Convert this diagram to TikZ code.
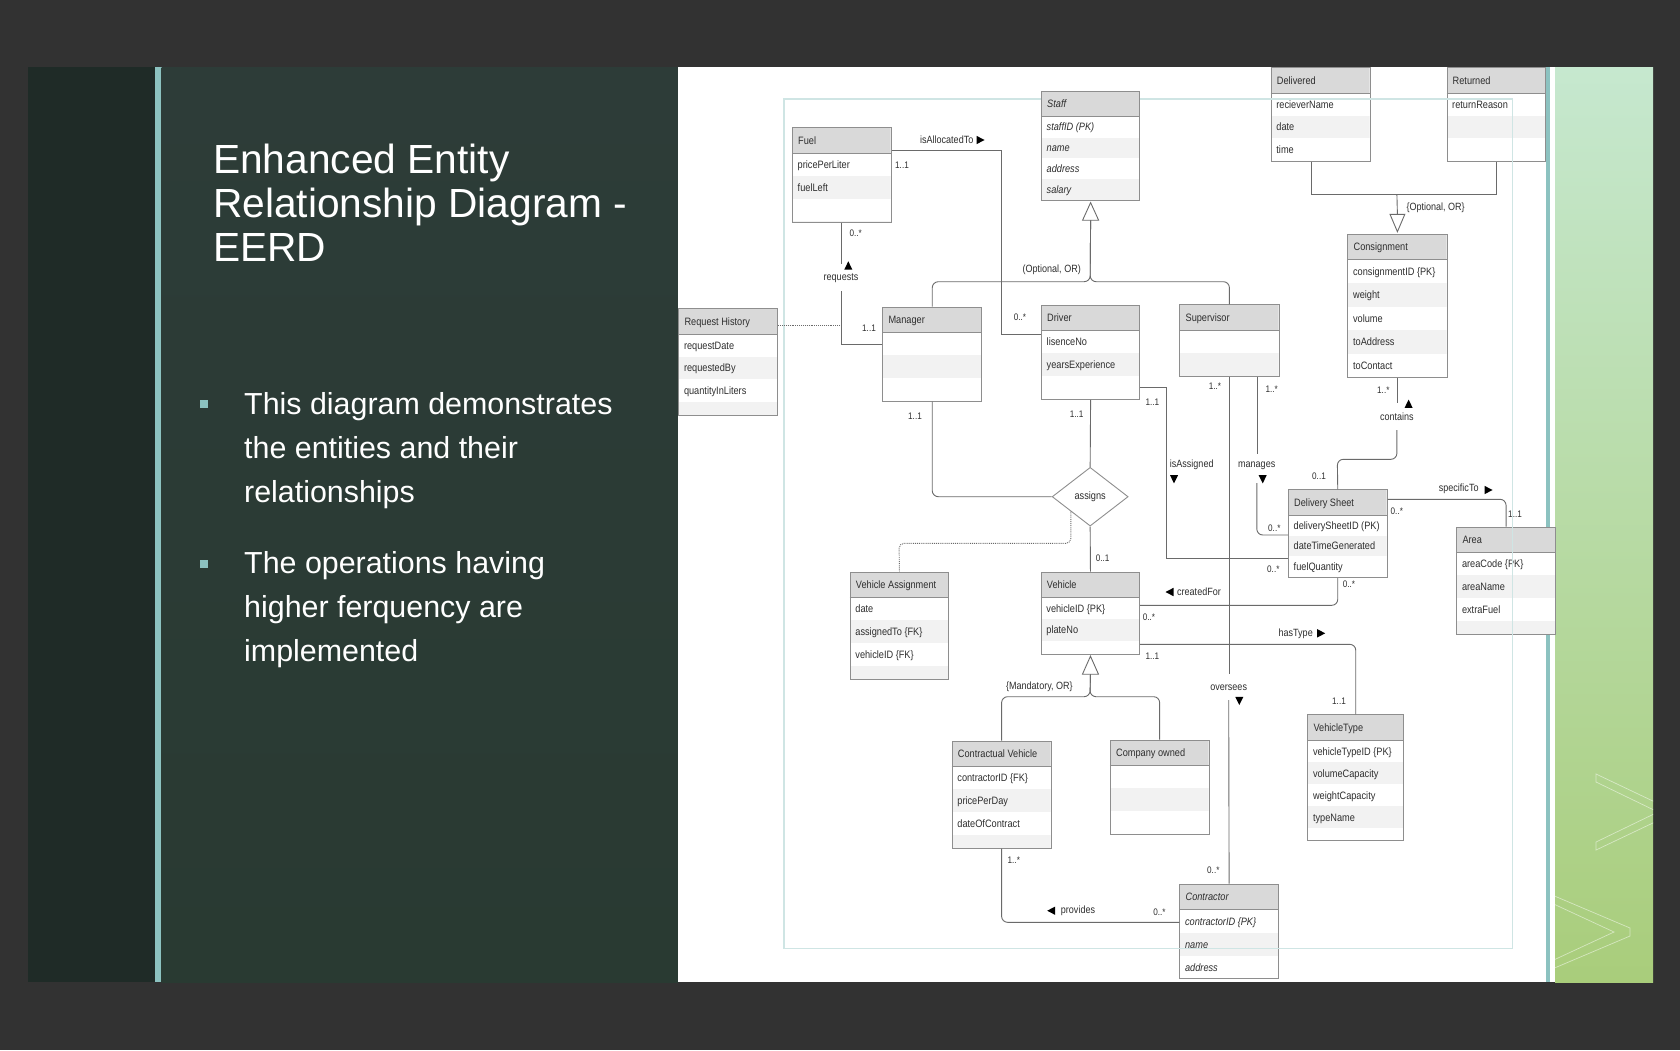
\documentclass[tikz,border=0pt]{standalone}
\usepackage{fontspec}
\setmainfont{Liberation Sans}
\newfontfamily\dfont[FakeStretch=0.86]{Liberation Sans}
\usetikzlibrary{shapes.geometric}
\definecolor{outerbg}{HTML}{323232}
\definecolor{stripdark}{HTML}{1F2B27}
\definecolor{paneltop}{HTML}{2D3C38}
\definecolor{panelbot}{HTML}{293A32}
\definecolor{tealbar}{HTML}{8CC2C0}
\definecolor{hdrgray}{HTML}{D9D9D9}
\definecolor{rowgray}{HTML}{F2F2F2}
\definecolor{boxgray}{HTML}{8E8E8E}
\definecolor{linegray}{HTML}{6A6A6A}
\definecolor{txtgray}{HTML}{2E2E2E}
\definecolor{frameteal}{HTML}{CFE5E4}
\definecolor{greentop}{HTML}{C6E8CF}
\definecolor{greenmid}{HTML}{B4E0A8}
\definecolor{greenbot}{HTML}{A9CD7B}
\tikzset{
 conn/.style={draw=linegray, line width=0.9pt},
 boxtxt/.style={font=\dfont\fontsize{10.7}{12}\selectfont, text=txtgray, inner sep=0pt},
 lbl/.style={font=\dfont\fontsize{10.5}{12}\selectfont, text=txtgray, inner sep=0pt},
 mult/.style={font=\dfont\fontsize{9.5}{11}\selectfont, text=txtgray, inner sep=0pt},
 titletxt/.style={font=\fontsize{40.7}{44}\selectfont, text=white, inner sep=0pt, anchor=base west},
 bullettxt/.style={font=\fontsize{30.4}{34}\selectfont, text=white, inner sep=0pt, anchor=base west},
 framestyle/.style={draw=frameteal, line width=1.1pt},
}
% #1 name, #2 x, #3 top, #4 width, #5 bottom, #6 row height, #7 title, #8 rows, #9 style
\newcommand\entitybox[9]{%
 \begin{scope}
  \clip (#2,#3) rectangle (#2+#4,#5);
  \fill[white] (#2,#3) rectangle (#2+#4,#5);
  \foreach \k in {1,3,5,7}{\fill[rowgray] (#2,#3+26+\k*#6) rectangle (#2+#4,#3+26+\k*#6+#6);}
  \fill[hdrgray] (#2,#3) rectangle (#2+#4,#3+26);
 \end{scope}
 \draw[boxgray, line width=0.9pt] (#2,#3+26) -- (#2+#4,#3+26);
 \node[draw=boxgray, line width=0.9pt, inner sep=0pt, minimum width=#4, minimum height=#5-#3, anchor=north west] (#1) at (#2,#3) {};
 \node[boxtxt, anchor=base west] (#1-t) at (#2+6,#3+16.9) {#9#7};
 \foreach \t [count=\i] in {#8}{\node[boxtxt, anchor=base west] (#1-r\i) at (#2+5.5,#3+26+\i*#6-#6/2+3.8) {#9\t};}
}
\newcommand\ahR[2]{\fill[black] (#1-3.5,#2-4.2) -- (#1+4.5,#2) -- (#1-3.5,#2+4.2) -- cycle;}
\newcommand\ahL[2]{\fill[black] (#1+3.5,#2-4.2) -- (#1-4.5,#2) -- (#1+3.5,#2+4.2) -- cycle;}
\newcommand\ahU[2]{\fill[black] (#1-4,#2+3.8) -- (#1,#2-4.4) -- (#1+4,#2+3.8) -- cycle;}
\newcommand\ahD[2]{\fill[black] (#1-4,#2-3.8) -- (#1,#2+4.4) -- (#1+4,#2-3.8) -- cycle;}
\begin{document}
\begin{tikzpicture}[x=1pt,y=-1pt]
\useasboundingbox (0,0) rectangle (1680,1050);
% slide background
\fill[outerbg] (0,0) rectangle (1680,1050);
\fill[stripdark] (28,67) rectangle (155,982);
\fill[tealbar] (155,67) rectangle (161.7,982);
\shade[top color=paneltop, bottom color=panelbot] (161.7,67) rectangle (678,982);
\fill[white] (678,67) rectangle (1546,982);
\fill[tealbar] (1546,67) rectangle (1549.5,982);
\fill[white] (1549.5,67) rectangle (1555,982);
\shade[top color=greentop, middle color=greenmid, bottom color=greenbot] (1555,67) rectangle (1653,982);
\begin{scope}
 \clip (1555,67) rectangle (1653,982);
 \draw[white, opacity=0.5, line width=0.7pt] (1596,774) -- (1676,812) -- (1596,850) -- (1596,842) -- (1658,812) -- (1596,782) -- cycle;
 \draw[white, opacity=0.5, line width=0.7pt] (1545,892) -- (1630,928) -- (1630,936) -- (1545,972) -- (1545,964) -- (1614,932) -- (1545,900) -- cycle;
\end{scope}

% light frame (under most boxes)
\draw[framestyle] (784,99) rectangle (1512.4,948.7);

% title and bullets
\node[titletxt] (t1) at (213,173.6) {Enhanced Entity};
\node[titletxt] (t2) at (213,217.3) {Relationship Diagram -};
\node[titletxt] (t3) at (213,261) {EERD};
\fill[tealbar] (199.5,399.8) rectangle (208,408.3);
\fill[tealbar] (199.5,559.5) rectangle (208,568);
\node[bullettxt] (b1a) at (244,414.3) {This diagram demonstrates};
\node[bullettxt] (b1b) at (244,458.5) {the entities and their};
\node[bullettxt] (b1c) at (244,502.5) {relationships};
\node[bullettxt] (b2a) at (244,573.5) {The operations having};
\node[bullettxt] (b2b) at (244,617.3) {higher ferquency are};
\node[bullettxt] (b2c) at (244,661) {implemented};

% entities
\entitybox{reqhist}{678.3}{308.3}{99}{415.3}{22.5}{Request History}{requestDate,requestedBy,quantityInLiters}{}
\entitybox{fuel}{792}{127.3}{98.6}{221.7}{22.7}{Fuel}{pricePerLiter,fuelLeft}{}
\entitybox{staff}{1041}{90.7}{98.3}{200}{20.8}{Staff}{staffID (PK),name,address,salary}{\itshape}
\entitybox{manager}{882.3}{306.7}{99}{400.7}{22.7}{Manager}{}{}
\entitybox{driver}{1041}{304.7}{98.3}{399}{22.7}{Driver}{lisenceNo,yearsExperience}{}
\entitybox{supervisor}{1179.4}{304.3}{99.1}{376}{22.7}{Supervisor}{}{}
\entitybox{delivered}{1270.7}{67.3}{99}{160.7}{22.5}{Delivered}{recieverName,date,time}{}
\entitybox{returned}{1446.5}{67.3}{98.4}{160.7}{22.5}{Returned}{returnReason}{}
\entitybox{consignment}{1347.4}{233.7}{99.1}{377.3}{23.5}{Consignment}{consignmentID \{PK\},weight,volume,toAddress,toContact}{}
\entitybox{dsheet}{1288}{489.3}{98.6}{577.3}{20.5}{Delivery Sheet}{deliverySheetID (PK),dateTimeGenerated,fuelQuantity}{}
\entitybox{area}{1456.3}{526.7}{98.6}{634}{22.7}{Area}{areaCode \{PK\},areaName,extraFuel}{}
\entitybox{vassign}{849.7}{571.7}{98.6}{679}{22.7}{Vehicle Assignment}{date,assignedTo \{FK\},vehicleID \{FK\}}{}
\entitybox{vehicle}{1040.7}{571.7}{98.6}{654}{21.5}{Vehicle}{vehicleID \{PK\},plateNo}{}
\entitybox{vtype}{1307.3}{714.3}{96}{840}{22}{VehicleType}{vehicleTypeID \{PK\},volumeCapacity,weightCapacity,typeName}{}
\entitybox{cvehicle}{951.7}{740.7}{98.9}{847.7}{22.7}{Contractual Vehicle}{contractorID \{FK\},pricePerDay,dateOfContract}{}
\entitybox{compowned}{1109.9}{739.7}{98.6}{834}{22.7}{Company owned}{}{}
\entitybox{contractor}{1179.4}{883.7}{98.5}{978.3}{23}{Contractor}{contractorID \{PK\},name,address}{\itshape}

\node[diamond, draw=boxgray, line width=0.9pt, fill=white, minimum width=76pt, minimum height=58.7pt, aspect=1.3, boxtxt] (assigns) at (1090.15,496.7) {assigns};

% named bend points
\coordinate (iatb) at (1001,334);
\coordinate (reqtop) at (841,290.7);
\coordinate (reqdot) at (841,325);
\coordinate (sj) at (1090.15,281.7);
\coordinate (stri) at ([yshift=-19.3pt]staff.south);
\coordinate (vab) at (899,543.3);
\coordinate (iab) at (1166,558.3);
\coordinate (mgb) at (1256.8,483);
\coordinate (ovb) at (1228.7,700);
\coordinate (cob) at (1396.9,430);
\coordinate (coj) at (1337.3,459.3);
\coordinate (vtri) at ([yshift=-19.3pt]vehicle.south);
\coordinate (vj) at (1090,696.7);
\coordinate (drj) at (1396.9,194.7);
\coordinate (ctri) at ([yshift=19.4pt]consignment.north);

% connectors
\draw[conn] ([yshift=-23.4pt]fuel.north east) -| (iatb) -- (iatb -| driver.west);
\draw[conn] (fuel.south) -- ++(0,41.3);
\draw[conn] ([yshift=-37.3pt]manager.north west) -| (reqtop);
\draw[conn, densely dotted] ([yshift=-16.7pt]reqhist.north east) -- (reqdot);
\draw[conn, rounded corners=6pt] (manager.north) |- (sj) -- (stri);
\draw[conn, rounded corners=6pt] (supervisor.north) |- (sj) -- (stri);
\draw[linegray, line width=0.9pt, fill=white] ([yshift=-1.7pt]staff.south) -- ([xshift=-8pt]stri) -- ([xshift=8pt]stri) -- cycle;
\draw[conn] (driver.south) -- (assigns.north);
\draw[conn, rounded corners=6pt] (manager.south) |- (assigns.west);
\draw[conn] (assigns.south) -- (vehicle.north);
\draw[conn, densely dotted, rounded corners=5pt] (assigns.south west) |- (vab) -- (vassign.north);
\draw[conn] ([yshift=-83pt]driver.north east) -| (iab) -- (iab -| dsheet.west);
\draw[conn] ([xshift=-21.7pt]supervisor.south east) -- ++(0,77);
\draw[conn, rounded corners=6pt] (mgb) |- ([yshift=-45.7pt]dsheet.north west);
\draw[conn] (supervisor.south) -- ++(0,297);
\draw[conn] (ovb) -- (contractor.north);
\draw[conn] (consignment.south) -- ++(0,24.4);
\draw[conn, rounded corners=6pt] (cob) |- (coj) -- (dsheet.north);
\draw[conn, rounded corners=6pt] ([yshift=-10pt]dsheet.north east) -| (area.north);
\draw[conn, rounded corners=6pt] ([yshift=-33.6pt]vehicle.north east) -| (dsheet.south);
\draw[conn, rounded corners=6pt] ([yshift=-72.6pt]vehicle.north east) -| (vtype.north);
\draw[conn, rounded corners=6pt] (cvehicle.north) |- (vj) -- (vtri);
\draw[conn, rounded corners=6pt] (compowned.north) |- (vj) -- (vtri);
\draw[linegray, line width=0.9pt, fill=white] ([yshift=-1.3pt]vehicle.south) -- ([xshift=-8pt]vtri) -- ([xshift=8pt]vtri) -- cycle;
\draw[conn, rounded corners=6pt] (cvehicle.south) |- ([yshift=-38.6pt]contractor.north west);
\draw[conn] ([xshift=-9.3pt]delivered.south) |- (drj) -| (returned.south);
\draw[conn] (drj) -- (ctri);
\draw[linegray, line width=0.9pt, fill=white] ([yshift=2pt]consignment.north) -- ([xshift=-7.4pt]ctri) -- ([xshift=7.4pt]ctri) -- cycle;

% relationship labels
\node[lbl] (l-iat) at (946.7,140) {isAllocatedTo}; \ahR{980}{140}
\node[lbl] (l-req) at (841,278.3) {requests}; \ahU{848.3}{265.7}
\node[lbl] (l-opt1) at (1051.7,269.3) {(Optional, OR)};
\node[lbl] (l-ias) at (1191.7,464.3) {isAssigned}; \ahD{1174}{479}
\node[lbl] (l-man) at (1256.7,466) {manages}; \ahD{1262.7}{479}
\node[lbl] (l-con) at (1396.8,416.7) {contains}; \ahU{1408.6}{404}
\node[lbl] (l-spe) at (1458.7,489) {specificTo}; \ahR{1488}{490}
\node[lbl] (l-cre) at (1199,592) {createdFor}; \ahL{1170}{592}
\node[lbl] (l-has) at (1295.7,633.3) {hasType}; \ahR{1320.7}{633.3}
\node[lbl] (l-ove) at (1228.7,687.3) {oversees}; \ahD{1239.3}{700.7}
\node[lbl] (l-mand) at (1039.4,686.7) {\{Mandatory, OR\}};
\node[lbl] (l-pro) at (1078,910.7) {provides}; \ahL{1051.7}{910.7}
\node[lbl, anchor=west] (l-opt2) at (1406.3,208) {\{Optional, OR\}};

% multiplicities
\node[mult] (m1) at (902,165.3) {1..1};
\node[mult] (m2) at (1020,317.3) {0..*};
\node[mult] (m3) at (855.7,233.3) {0..*};
\node[mult] (m4) at (869,328.7) {1..1};
\node[mult] (m5) at (915,416) {1..1};
\node[mult] (m6) at (1076.7,414) {1..1};
\node[mult] (m7) at (1102.7,558.3) {0..1};
\node[mult] (m8) at (1152.3,402.3) {1..1};
\node[mult] (m9) at (1273.3,569.3) {0..*};
\node[mult] (m10) at (1215,386) {1..*};
\node[mult] (m11) at (1271.7,389) {1..*};
\node[mult] (m12) at (1274.3,528.3) {0..*};
\node[mult] (m13) at (1383.3,390) {1..*};
\node[mult] (m14) at (1319,476) {0..1};
\node[mult] (m15) at (1396.8,511) {0..*};
\node[mult] (m16) at (1515,514.3) {1..1};
\node[mult] (m17) at (1149,617.3) {0..*};
\node[mult] (m18) at (1349,584) {0..*};
\node[mult] (m19) at (1152.3,656.7) {1..1};
\node[mult] (m20) at (1339,701.3) {1..1};
\node[mult] (m21) at (1013.8,860.7) {1..*};
\node[mult] (m22) at (1159.4,912.3) {0..*};
\node[mult] (m23) at (1213.3,870) {0..*};

% frame segments that show over the right-hand boxes and the bottom
\draw[framestyle] (1260,99) -- (1512.4,99) -- (1512.4,948.7) -- (1170,948.7);
\end{tikzpicture}
\end{document}
